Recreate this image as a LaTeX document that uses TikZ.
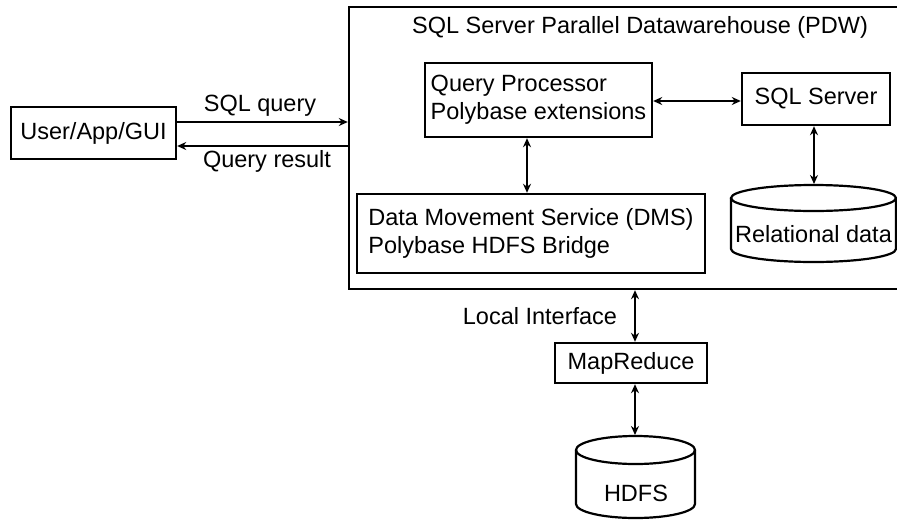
\documentclass[tikz,border=0pt]{standalone}
\usepackage{fontspec}
\setmainfont{Liberation Sans}
\usetikzlibrary{arrows.meta}
\begin{document}
\begin{tikzpicture}[x=1pt,y=-1pt,
  box/.style={draw, line width=2.4pt, inner sep=0pt, font=\fontsize{23.5}{28}\selectfont},
  lbl/.style={inner sep=0pt, font=\fontsize{23.5}{28}\selectfont},
  conn/.style={line width=1.5pt, {Stealth[length=9pt,width=8pt]}-{Stealth[length=9pt,width=8pt]}},
  one/.style={line width=1.5pt, -{Stealth[length=9pt,width=8pt]}},
  cyl/.style={line width=2.2pt}]
\useasboundingbox (0,0) rectangle (897,520);
\clip (0,0) rectangle (897,520);
% boxes
\node[box, minimum width=165pt, minimum height=52pt] (user) at (93.5,133) {User/App/GUI};
\node[box, minimum width=551pt, minimum height=282pt] (pdw) at (624.5,148) {};
\node[lbl] (title) at (640,27) {SQL Server Parallel Datawarehouse (PDW)};
\node[box, minimum width=227pt, minimum height=74pt, align=left] (qp) at (538.5,100) {Query Processor\\Polybase extensions};
\node[box, minimum width=148pt, minimum height=52pt] (sql) at (816,99) {SQL Server};
\node[box, minimum width=348pt, minimum height=79pt, align=left] (dms) at (531,233.5) {Data Movement Service (DMS)\\Polybase HDFS Bridge};
\node[box, minimum width=152pt, minimum height=40pt] (mr) at (631,363) {MapReduce};
% relational data cylinder
\draw[cyl] (813.5,198) ellipse [x radius=82.5pt, y radius=13pt];
\draw[cyl] (731,198) -- (731,249) arc[start angle=180, end angle=360, x radius=82.5pt, y radius=13pt] -- (896,198);
\node[lbl] (rel) at (813.5,234) {Relational data};
\coordinate (reltop) at (814,184);
% HDFS cylinder
\draw[cyl] (635.5,450) ellipse [x radius=59.5pt, y radius=14pt];
\draw[cyl] (576,450) -- (576,504) arc[start angle=180, end angle=360, x radius=59.5pt, y radius=14pt] -- (695,450);
\node[lbl] (hdfs) at (636,493) {HDFS};
\coordinate (hdfstop) at (635,435);
% connectors
\draw[one] (user.east |- 0,122) -- (pdw.west |- 0,122);
\draw[one] (pdw.west |- 0,146) -- (user.east |- 0,146);
\node[lbl] (sqlq) at (260,106) {SQL query};
\node[lbl] (qres) at (267,161) {Query result};
\draw[conn] (qp.east |- 0,101) -- (sql.west |- 0,101);
\draw[conn] (qp.south -| 527,0) -- (dms.north -| 527,0);
\draw[conn] (sql.south -| 814,0) -- (reltop);
\draw[conn] (pdw.south -| 635,0) -- (mr.north -| 635,0);
\draw[conn] (mr.south -| 635,0) -- (hdfstop);
\node[lbl] (li) at (540,316) {Local Interface};
\end{tikzpicture}
\end{document}
